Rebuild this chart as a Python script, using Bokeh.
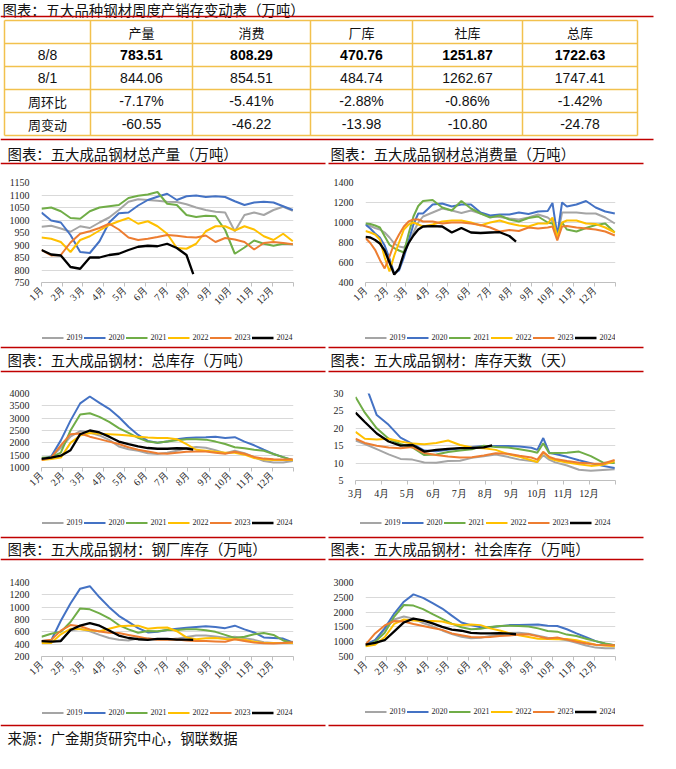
import math
from bokeh.plotting import figure
from bokeh.layouts import column, row
from bokeh.models import Range1d, FixedTicker, Legend, LegendItem
from bokeh.core.properties import value
from bokeh.embed import file_html
from bokeh.resources import INLINE

# ------------------------------------------------------------------ data
YEARS = ["2019", "2020", "2021", "2022", "2023", "2024"]
MONTH_LABELS = ["1月", "2月", "3月", "4月", "5月", "6月", "7月", "8月", "9月", "10月", "11月", "12月"]
MONTH_START_DAY = [0, 31, 59, 90, 120, 151, 181, 212, 243, 273, 304, 334]
YEAR_END_DAY = 365

TABLE_TITLE = "图表：五大品种钢材周度产销存变动表（万吨）"
TABLE_HEADER = ["", "产量", "消费", "厂库", "社库", "总库"]
ROW_LABELS = ["8/8", "8/1", "周环比", "周变动"]
VAL_0808 = ["783.51", "808.29", "470.76", "1251.87", "1722.63"]
VAL_0801 = ["844.06", "854.51", "484.74", "1262.67", "1747.41"]
WOW_PCT = ["-7.17%", "-5.41%", "-2.88%", "-0.86%", "-1.42%"]
WOW_CHG = ["-60.55", "-46.22", "-13.98", "-10.80", "-24.78"]

TITLES = ["图表：五大成品钢材总产量（万吨）", "图表：五大成品钢材总消费量（万吨）",
          "图表：五大成品钢材：总库存（万吨）", "图表：五大成品钢材：库存天数（天）",
          "图表：五大成品钢材：钢厂库存（万吨）", "图表：五大成品钢材：社会库存（万吨）"]
SOURCE = "来源：广金期货研究中心，钢联数据"

# week-of-year sample positions
W_STEP2 = [0, 2, 4, 6, 8, 10, 12, 14, 16, 18, 20, 22, 24, 26, 28, 30, 32, 34, 36, 38, 40, 42, 44, 46, 48, 50, 52]
W_STEP2_2024 = [0, 2, 4, 6, 8, 10, 12, 14, 16, 18, 20, 22, 24, 26, 28, 30, 31.4]

# total output
prod_weeks = W_STEP2
prod_2019 = [973, 977, 966, 953, 975, 968, 990, 1010, 1040, 1073, 1083, 1080, 1077, 1073, 1072, 1063, 1050, 1040, 1033, 1030, 955, 1020, 1030, 1020, 1040, 1053, 1037]
prod_2020 = [1030, 998, 990, 940, 872, 868, 915, 990, 1027, 1030, 1058, 1080, 1093, 1105, 1080, 1095, 1098, 1092, 1095, 1092, 1075, 1060, 1070, 1073, 1070, 1055, 1040]
prod_2021 = [1045, 1050, 1035, 1008, 1005, 1035, 1050, 1055, 1060, 1088, 1097, 1102, 1112, 1065, 1060, 1020, 1012, 1017, 1015, 960, 865, 890, 918, 905, 897, 905, 903]
prod_2022 = [930, 925, 912, 872, 920, 935, 958, 980, 995, 1008, 985, 995, 975, 945, 888, 885, 905, 955, 975, 975, 958, 975, 962, 935, 920, 945, 915]
prod_2023 = [880, 858, 860, 910, 945, 955, 968, 985, 962, 930, 920, 925, 932, 940, 937, 932, 930, 938, 912, 928, 922, 912, 882, 908, 912, 908, 903]
prod_weeks_2024 = W_STEP2_2024
prod_2024 = [880, 862, 858, 812, 805, 850, 850, 860, 865, 880, 893, 897, 895, 905, 888, 860, 783.51]

# total consumption
cons_weeks = [0, 1, 2, 3, 4, 5, 6, 7, 8, 9, 10, 11, 12, 14, 16, 18, 20, 22, 24, 26, 28, 30, 32, 34, 36, 38, 39, 40, 41, 42, 44, 46, 48, 50, 52]
cons_2019 = [980, 965, 945, 930, 900, 850, 790, 760, 750, 800, 900, 1000, 1060, 1100, 1140, 1120, 1095, 1120, 1090, 1060, 1055, 1040, 1030, 1050, 1080, 1050, 1010, 850, 1100, 1100, 1100, 1090, 1090, 1050, 990]
cons_2020 = [980, 940, 890, 850, 770, 640, 490, 520, 650, 820, 980, 1090, 1090, 1180, 1190, 1160, 1180, 1180, 1100, 1070, 1080, 1080, 1100, 1085, 1110, 1115, 1195, 870, 1200, 1160, 1180, 1215, 1150, 1110, 1090]
cons_2021 = [990, 985, 970, 950, 862, 778, 744, 720, 700, 890, 1060, 1165, 1215, 1225, 1150, 1120, 1215, 1140, 1090, 1050, 1070, 1030, 1010, 1045, 1060, 1000, 990, 870, 1000, 930, 910, 945, 975, 990, 900]
cons_2022 = [915, 900, 880, 830, 650, 510, 670, 800, 930, 980, 1000, 980, 960, 980, 1010, 1020, 1020, 1000, 970, 1000, 1020, 990, 970, 960, 990, 990, 1050, 850, 1000, 1020, 1020, 990, 985, 950, 900]
cons_2023 = [845, 795, 727, 626, 540, 660, 790, 880, 960, 1010, 1030, 1030, 1010, 1010, 990, 1000, 1000, 990, 975, 950, 910, 925, 915, 950, 940, 950, 960, 820, 960, 965, 950, 940, 930, 910, 870]
cons_weeks_2024 = [0, 1, 2, 3, 4, 5, 6, 7, 8, 9, 10, 11, 12, 14, 16, 18, 20, 22, 24, 26, 28, 30, 31.4]
cons_2024 = [856, 850, 825, 790, 720, 600, 480, 540, 690, 795, 870, 930, 960, 963, 960, 900, 945, 900, 895, 900, 903, 865, 808.29]

# total inventory
inv_weeks = W_STEP2
inv_2019 = [1350, 1420, 1800, 2250, 2480, 2420, 2300, 2120, 1850, 1740, 1680, 1580, 1550, 1600, 1680, 1780, 1830, 1800, 1700, 1580, 1680, 1580, 1420, 1260, 1200, 1200, 1260]
inv_2020 = [1350, 1450, 2100, 2900, 3600, 3880, 3620, 3380, 3050, 2650, 2320, 2080, 2000, 2050, 2150, 2200, 2220, 2230, 2250, 2200, 2230, 2050, 1900, 1720, 1550, 1420, 1300]
inv_2021 = [1400, 1420, 1600, 2500, 3150, 3200, 3050, 2850, 2600, 2400, 2200, 2050, 2000, 2050, 2100, 2150, 2150, 2130, 2050, 1950, 1820, 1780, 1720, 1680, 1550, 1420, 1300]
inv_2022 = [1300, 1340, 1400, 2000, 2300, 2400, 2370, 2350, 2330, 2300, 2250, 2220, 2200, 2200, 2150, 1950, 1720, 1680, 1640, 1600, 1600, 1520, 1380, 1320, 1300, 1300, 1300]
inv_2023 = [1300, 1400, 1900, 2350, 2380, 2250, 2150, 2050, 1950, 1820, 1720, 1650, 1580, 1560, 1600, 1640, 1650, 1650, 1600, 1560, 1640, 1560, 1430, 1360, 1330, 1320, 1330]
inv_weeks_2024 = W_STEP2_2024
inv_2024 = [1350, 1400, 1480, 1700, 2350, 2500, 2420, 2250, 2050, 1950, 1860, 1790, 1760, 1760, 1780, 1770, 1722.63]

# inventory days (from March)
days_weeks = [8.43, 10, 12, 14, 16, 18, 20, 22, 24, 26, 28, 30, 32, 34, 36, 38, 39, 40, 41, 42, 44, 46, 48, 50, 52]
days_2019 = [16.5, 15.5, 14, 12.5, 11.2, 11, 10.2, 10.1, 10.6, 10.7, 11.5, 12, 12.5, 11.8, 11, 10.6, 10.3, 12.3, 11, 10.2, 9.3, 8.1, 7.8, 8, 8.2]
days_2020 = [40, 33, 23.8, 21, 17.3, 15.5, 13.6, 13.4, 13.8, 14.3, 14.6, 14.9, 14.9, 14.9, 14.8, 14.4, 13.8, 17.2, 13, 12.6, 11.8, 10.8, 10, 9.2, 8.6]
days_2021 = [29, 24.5, 20, 17, 15.5, 14.5, 12.3, 12.5, 13.2, 13.6, 14, 15, 14.6, 14.5, 14, 13.4, 13, 15.7, 12.8, 12.9, 13, 13.3, 12, 10.2, 10]
days_2022 = [19, 17, 16.8, 17, 16.2, 15.6, 15.4, 15.8, 16.5, 15.2, 14.5, 14.3, 13.8, 12.6, 11.8, 10.8, 10.3, 13.2, 11.5, 10.8, 10.2, 9.7, 9.2, 9.5, 10.5]
days_2023 = [17, 15.8, 15, 14.5, 14.3, 14.6, 12.9, 12.3, 11.9, 11.6, 11.7, 12.2, 12.8, 12.7, 12.1, 11.6, 11, 13.2, 11.8, 11.2, 10.6, 10.1, 9.9, 9.8, 10.9]
days_weeks_2024 = [8.43, 10, 12, 14, 16, 18, 20, 22, 24, 26, 28, 30, 31.4]
days_2024 = [24.5, 21.8, 18.5, 16.2, 15, 15.2, 13.3, 13.8, 14.1, 14.3, 14.3, 14.5, 15.1]

# mill inventory
mill_weeks = W_STEP2
mill_2019 = [440, 430, 470, 620, 650, 610, 550, 500, 470, 460, 495, 490, 480, 470, 490, 515, 540, 540, 525, 505, 520, 495, 470, 430, 420, 420, 440]
mill_2020 = [450, 460, 780, 1060, 1300, 1340, 1160, 1000, 860, 760, 660, 590, 600, 630, 650, 665, 680, 690, 680, 660, 700, 640, 590, 510, 500, 490, 430]
mill_2021 = [520, 570, 600, 760, 980, 965, 900, 820, 710, 640, 585, 615, 610, 630, 630, 640, 640, 625, 600, 550, 500, 520, 560, 580, 550, 460, 420]
mill_2022 = [420, 420, 560, 650, 640, 625, 610, 650, 690, 700, 700, 650, 665, 670, 610, 510, 480, 495, 500, 485, 480, 470, 440, 420, 420, 420, 420]
mill_2023 = [450, 470, 620, 710, 690, 640, 605, 585, 580, 550, 520, 490, 470, 470, 475, 460, 450, 450, 445, 440, 480, 450, 425, 415, 410, 420, 430]
mill_weeks_2024 = W_STEP2_2024
mill_2024 = [450, 440, 450, 630, 700, 740, 700, 620, 540, 500, 480, 470, 485, 485, 475, 475, 470.76]

# social inventory
soc_weeks = W_STEP2
soc_2019 = [900, 1050, 1420, 1750, 1850, 1780, 1630, 1520, 1380, 1260, 1170, 1120, 1130, 1190, 1240, 1290, 1300, 1270, 1200, 1130, 1100, 1050, 960, 870, 800, 775, 780]
soc_2020 = [900, 1050, 1450, 1950, 2350, 2600, 2480, 2300, 2120, 1880, 1650, 1560, 1490, 1490, 1520, 1560, 1560, 1570, 1580, 1540, 1530, 1420, 1280, 1150, 1020, 930, 870]
soc_2021 = [850, 1000, 1300, 1850, 2240, 2220, 2100, 1930, 1770, 1610, 1490, 1420, 1440, 1500, 1530, 1540, 1530, 1510, 1450, 1360, 1340, 1240, 1190, 1100, 1020, 940, 880]
soc_2022 = [850, 900, 1150, 1600, 1750, 1720, 1700, 1700, 1680, 1600, 1560, 1580, 1560, 1450, 1380, 1290, 1220, 1160, 1100, 1090, 1080, 1090, 1050, 970, 900, 870, 850]
soc_2023 = [900, 1280, 1550, 1700, 1680, 1600, 1530, 1460, 1400, 1280, 1220, 1160, 1150, 1160, 1190, 1210, 1240, 1250, 1180, 1110, 1140, 1070, 1000, 940, 900, 880, 880]
soc_weeks_2024 = W_STEP2_2024
soc_2024 = [900, 960, 1050, 1350, 1650, 1780, 1720, 1620, 1500, 1410, 1370, 1300, 1280, 1280, 1290, 1270, 1251.87]

# ------------------------------------------------------------------ styles
COLORS = ["#A5A5A5", "#4472C4", "#70AD47", "#FFC000", "#ED7D31", "#000000"]
WIDTHS = [2, 2, 2, 2, 2, 2.3]
RED = "#C00000"
GOLD = "#F2C14E"
CJK = "Noto Sans CJK SC"
SERIF = "Liberation Serif"
SANS = "Liberation Sans"
TITLE_SIZE = "14.4px"


def page_fig(y_top, y_bottom):
    p = figure(width=660, height=y_bottom - y_top, x_range=Range1d(8, 668),
               y_range=Range1d(y_bottom, y_top), x_axis_type=None, y_axis_type=None,
               output_backend="svg", toolbar_location=None, min_border=0)
    p.outline_line_color = None
    p.background_fill_color = "white"
    p.border_fill_color = "white"
    return p


def red_lines(p, ys, spans):
    x0, x1, yy = [], [], []
    for y in ys:
        for a, b in spans:
            x0.append(a); x1.append(b); yy.append(y)
    p.segment(x0=x0, y0=yy, x1=x1, y1=yy, line_color=RED, line_width=1.5)


def put_text(p, xs, ys, texts, font, size, align="left", style="normal", color="#111111"):
    p.text(x=xs, y=ys, text=texts, text_font=value(font), text_font_size=value(size),
           text_align=align, text_baseline="middle", text_font_style=style, text_color=color)


SPLIT = [(8, 333), (336, 651)]
FULL = [(8, 661)]

# ---- table block
tbl = page_fig(8, 150)
put_text(tbl, [10], [17], [TABLE_TITLE], CJK, TITLE_SIZE)
red_lines(tbl, [24, 147], FULL)
COL_EDGES = [12, 98, 200, 318, 420, 530, 645]
ROW_EDGES = [28, 51, 74, 97, 120, 143]
tbl.segment(x0=[COL_EDGES[0]] * len(ROW_EDGES), y0=ROW_EDGES, x1=[COL_EDGES[-1]] * len(ROW_EDGES), y1=ROW_EDGES,
            line_color=GOLD, line_width=1.5)
tbl.segment(x0=COL_EDGES, y0=[ROW_EDGES[0]] * len(COL_EDGES), x1=COL_EDGES, y1=[ROW_EDGES[-1]] * len(COL_EDGES),
            line_color=GOLD, line_width=1.5)
cx = [(COL_EDGES[i] + COL_EDGES[i + 1]) / 2 for i in range(len(COL_EDGES) - 1)]
cy = [(ROW_EDGES[i] + ROW_EDGES[i + 1]) / 2 for i in range(len(ROW_EDGES) - 1)]
put_text(tbl, cx[1:], [cy[0]] * 5, TABLE_HEADER[1:], CJK, "13px", align="center")
put_text(tbl, [cx[0]] * 2, cy[1:3], ROW_LABELS[:2], SANS, "14px", align="center")
put_text(tbl, [cx[0]] * 2, cy[3:5], ROW_LABELS[2:], CJK, "13px", align="center")
put_text(tbl, cx[1:], [cy[1]] * 5, VAL_0808, SANS, "14px", align="center", style="bold", color="#000000")
put_text(tbl, cx[1:], [cy[2]] * 5, VAL_0801, SANS, "14px", align="center")
put_text(tbl, cx[1:], [cy[3]] * 5, WOW_PCT, SANS, "14px", align="center")
put_text(tbl, cx[1:], [cy[4]] * 5, WOW_CHG, SANS, "14px", align="center")

# ---- section headers
h1 = page_fig(150, 180)
put_text(h1, [15, 338], [161, 161], TITLES[0:2], CJK, TITLE_SIZE)
red_lines(h1, [171], SPLIT)

h2 = page_fig(348, 385)
put_text(h2, [15, 338], [367, 367], TITLES[2:4], CJK, TITLE_SIZE)
red_lines(h2, [355, 379], SPLIT)

h3 = page_fig(540, 575)
put_text(h3, [15, 338], [556, 556], TITLES[4:6], CJK, TITLE_SIZE)
red_lines(h3, [545, 567], SPLIT)

foot = page_fig(725, 760)
red_lines(foot, [733], SPLIT)
put_text(foot, [15], [745], [SOURCE], CJK, TITLE_SIZE)


def make_chart(height, borders, weeks, series5, weeks24, vals24, y_lo, y_hi, y_step,
               x_start_day=0, rotate=True):
    bl, br, bt, bb = borders
    p = figure(width=330, height=height, x_range=Range1d(x_start_day, YEAR_END_DAY),
               y_range=Range1d(y_lo, y_hi), output_backend="svg", toolbar_location=None,
               min_border_left=bl, min_border_right=br, min_border_top=bt, min_border_bottom=bb)
    p.outline_line_color = None
    p.background_fill_color = "white"
    p.border_fill_color = "white"
    p.xgrid.grid_line_color = None
    p.ygrid.grid_line_color = "#D9D9D9"
    p.ygrid.grid_line_width = 1

    p.yaxis.ticker = FixedTicker(ticks=list(range(y_lo, y_hi + 1, y_step)))
    p.yaxis.axis_line_color = None
    p.yaxis.major_tick_line_color = None
    p.yaxis.minor_tick_line_color = None
    p.yaxis.major_label_text_font = SERIF
    p.yaxis.major_label_text_font_size = "10px"
    p.yaxis.major_label_text_color = "#262626"
    p.yaxis.major_label_standoff = 6

    ticks = [d for d in MONTH_START_DAY if d >= x_start_day] + [YEAR_END_DAY]
    overrides = {}
    for d, lab in zip(MONTH_START_DAY, MONTH_LABELS):
        if d >= x_start_day:
            overrides[d] = lab
            overrides[str(d)] = lab
    overrides[YEAR_END_DAY] = ""
    overrides[str(YEAR_END_DAY)] = ""
    p.xaxis.ticker = FixedTicker(ticks=ticks)
    p.xaxis.major_label_overrides = overrides
    p.xaxis.axis_line_color = "#BFBFBF"
    p.xaxis.major_tick_line_color = "#BFBFBF"
    p.xaxis.major_tick_out = 4
    p.xaxis.major_tick_in = 0
    p.xaxis.minor_tick_line_color = None
    p.xaxis.major_label_text_font = SERIF
    p.xaxis.major_label_text_font_size = "10px"
    p.xaxis.major_label_text_color = "#262626"
    if rotate:
        p.xaxis.major_label_orientation = math.pi / 4
        p.xaxis.major_label_standoff = 2
    else:
        p.xaxis.major_label_standoff = 3

    for col, wd, vals in zip(COLORS[:5], WIDTHS[:5], series5):
        p.line([w * 7 for w in weeks], vals, line_color=col, line_width=wd)
    p.line([w * 7 for w in weeks24], vals24, line_color=COLORS[5], line_width=WIDTHS[5])
    return p


LEGEND_Y_SHIFT = 8   # the drawn key sits this far above the centre of the legend box


def legend_strip(height, center_x, center_y):
    # a strip below each chart that carries the year key, centred on (center_x, center_y)
    cyy = center_y + LEGEND_Y_SHIFT
    if center_x < 165:
        bl, br = 0, 330 - 2 * center_x
    else:
        bl, br = 2 * center_x - 330, 0
    if cyy < height / 2:
        bt, bb = 0, height - 2 * cyy
    else:
        bt, bb = 2 * cyy - height, 0
    p = figure(width=330, height=height, x_range=Range1d(0, 1), y_range=Range1d(0, 1),
               x_axis_type=None, y_axis_type=None, output_backend="svg",
               toolbar_location=None, min_border_left=bl, min_border_right=br,
               min_border_top=bt, min_border_bottom=bb)
    p.outline_line_color = None
    p.background_fill_color = "white"
    p.border_fill_color = "white"
    # key renderers sit outside the visible range; only their style is shown in the key
    rends = [p.line(x=[-20, -10], y=[-20, -20], line_color=c, line_width=w) for c, w in zip(COLORS, WIDTHS)]
    legend = Legend(items=[LegendItem(label=value(y), renderers=[r]) for y, r in zip(YEARS, rends)],
                    location="center", orientation="horizontal",
                    background_fill_alpha=0, border_line_color=None,
                    label_text_font=SERIF, label_text_font_size="8px", label_text_color="#262626",
                    glyph_width=22, glyph_height=8, label_height=8, label_width=15,
                    label_standoff=3, spacing=1, padding=0, margin=0)
    p.add_layout(legend)
    return p


c1 = make_chart(142, (41, 37, 10, 32), prod_weeks,
                [prod_2019, prod_2020, prod_2021, prod_2022, prod_2023],
                prod_weeks_2024, prod_2024, 750, 1150, 50)
c2 = make_chart(142, (33, 45, 10, 32), cons_weeks,
                [cons_2019, cons_2020, cons_2021, cons_2022, cons_2023],
                cons_weeks_2024, cons_2024, 400, 1400, 200)
c3 = make_chart(123, (41, 37, 16, 33), inv_weeks,
                [inv_2019, inv_2020, inv_2021, inv_2022, inv_2023],
                inv_weeks_2024, inv_2024, 1000, 4000, 500)
c4 = make_chart(127, (23, 45, 16, 24), days_weeks,
                [days_2019, days_2020, days_2021, days_2022, days_2023],
                days_weeks_2024, days_2024, 5, 30, 5,
                x_start_day=MONTH_START_DAY[2], rotate=False)
c5 = make_chart(123, (41, 37, 15, 34), mill_weeks,
                [mill_2019, mill_2020, mill_2021, mill_2022, mill_2023],
                mill_weeks_2024, mill_2024, 200, 1400, 200)
c6 = make_chart(123, (33, 45, 15, 34), soc_weeks,
                [soc_2019, soc_2020, soc_2021, soc_2022, soc_2023],
                soc_weeks_2024, soc_2024, 500, 3000, 500)

l1 = legend_strip(26, 156, 15)
l2 = legend_strip(26, 149, 15)
l3 = legend_strip(32, 156, 14)
l4 = legend_strip(28, 150, 10)
l5 = legend_strip(27, 156, 14)
l6 = legend_strip(27, 149, 13)

layout = column(tbl, h1,
                row(column(c1, l1, spacing=0), column(c2, l2, spacing=0), spacing=0),
                h2,
                row(column(c3, l3, spacing=0), column(c4, l4, spacing=0), spacing=0),
                h3,
                row(column(c5, l5, spacing=0), column(c6, l6, spacing=0), spacing=0),
                foot, spacing=0)

with open("out.html", "w") as f:
    f.write(file_html(layout, INLINE))
